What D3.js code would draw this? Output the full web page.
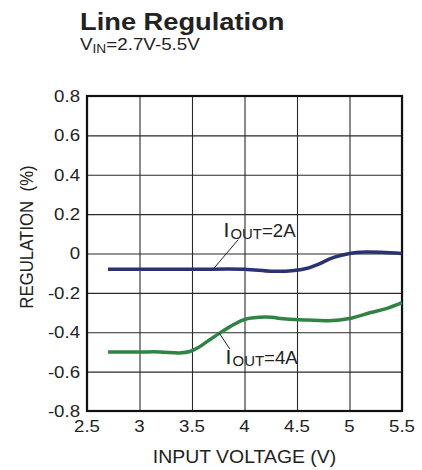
<!DOCTYPE html>
<html>
<head>
<meta charset="utf-8">
<script src="https://cdn.jsdelivr.net/npm/d3@7"></script>
<style>
    body { margin: 0; background: #fff; }
    text { font-family: "Liberation Sans", Arial, sans-serif; fill: #222; }
</style>
</head>
<body>
<div id="chart"></div>
<script>

// input voltage (V) and line regulation (%)
let vin2A = [2.7, 3.0, 3.5, 4.0, 4.25, 4.45, 4.6, 4.7, 4.85, 5.0, 5.15, 5.3, 5.5];
let reg2A = [-0.08, -0.08, -0.08, -0.08, -0.09, -0.088, -0.075, -0.055, -0.02, 0.0, 0.007, 0.006, 0.0];

let vin4A = [2.7, 3.0, 3.2, 3.38, 3.48, 3.56, 3.65, 3.77, 3.9, 4.0, 4.2, 4.4, 4.6, 4.8, 5.0, 5.2, 5.35, 5.5];
let reg4A = [-0.5, -0.5, -0.5, -0.505, -0.498, -0.478, -0.445, -0.402, -0.36, -0.335, -0.323, -0.333, -0.338, -0.341, -0.33, -0.3, -0.28, -0.25];

let xTicks = [2.5, 3, 3.5, 4, 4.5, 5, 5.5];
let yTicks = [-0.8, -0.6, -0.4, -0.2, 0, 0.2, 0.4, 0.6, 0.8];

let margin = {top: 96, right: 20, bottom: 59, left: 87};
let width = 422 - margin.left - margin.right;
let height = 470 - margin.top - margin.bottom;

let svg = d3.select("#chart").append("svg")
    .attr("width", 422)
    .attr("height", 470);

// the original lettering is a little wider than Arial, so stretch it sideways
function widen(sel, k) {
    sel.each(function() {
        let len = this.getComputedTextLength();
        d3.select(this)
            .attr("textLength", len * k)
            .attr("lengthAdjust", "spacingAndGlyphs");
    });
}

// title
svg.append("text")
    .attr("x", 80)
    .attr("y", 30)
    .attr("font-size", 23.5)
    .attr("font-weight", "bold")
    .text("Line Regulation")
    .call(widen, 1.16);

let sub = svg.append("text")
    .attr("x", 80)
    .attr("y", 50)
    .attr("font-size", 16.5);
sub.append("tspan").text("V");
sub.append("tspan").attr("font-size", 12).attr("dy", 3).text("IN");
sub.append("tspan").attr("dy", -3).text("=2.7V-5.5V");
sub.call(widen, 1.14);

let g = svg.append("g")
    .attr("transform", `translate(${margin.left}, ${margin.top})`);

let x = d3.scaleLinear().domain([2.5, 5.5]).range([0, width]);
let y = d3.scaleLinear().domain([-0.8, 0.8]).range([height, 0]);

// grid
g.append("g")
    .attr("class", "x-grid")
    .attr("transform", `translate(0, ${height})`)
    .call(d3.axisBottom(x).tickValues(xTicks).tickSize(-height).tickFormat(""))
    .call(a => a.select(".domain").remove())
    .selectAll("line").attr("stroke", "#2a2a2a").attr("stroke-width", 1.1);

g.append("g")
    .attr("class", "y-grid")
    .call(d3.axisLeft(y).tickValues(yTicks).tickSize(-width).tickFormat(""))
    .call(a => a.select(".domain").remove())
    .selectAll("line").attr("stroke", "#2a2a2a").attr("stroke-width", 1.1);

// tick labels
g.selectAll(".xlab")
    .data(xTicks)
    .enter().append("text")
    .attr("class", "xlab")
    .attr("x", d => x(d))
    .attr("y", height + 21)
    .attr("text-anchor", "middle")
    .attr("font-size", 16.5)
    .text(d => String(d))
    .call(widen, 1.13);

g.selectAll(".ylab")
    .data(yTicks)
    .enter().append("text")
    .attr("class", "ylab")
    .attr("x", -7)
    .attr("y", d => y(d))
    .attr("dy", "0.36em")
    .attr("text-anchor", "end")
    .attr("font-size", 16.5)
    .text(d => String(d))
    .call(widen, 1.13);

// frame
g.append("rect")
    .attr("width", width)
    .attr("height", height)
    .attr("fill", "none")
    .attr("stroke", "#111")
    .attr("stroke-width", 2.2);

// axis titles
svg.append("text")
    .attr("x", margin.left + width / 2)
    .attr("y", 463)
    .attr("text-anchor", "middle")
    .attr("font-size", 18.5)
    .text("INPUT VOLTAGE (V)")
    .call(widen, 1.05);

svg.append("text")
    .attr("transform", "translate(33, 237) rotate(-90) scale(1, 1.12)")
    .attr("text-anchor", "middle")
    .attr("font-size", 16.8)
    .style("white-space", "pre")
    .text("REGULATION  (%)");

// curves
let line = d3.line()
    .x(d => x(d[0]))
    .y(d => y(d[1]))
    .curve(d3.curveCatmullRom.alpha(0.5));

g.append("path")
    .datum(d3.zip(vin2A, reg2A))
    .attr("fill", "none")
    .attr("stroke", "#283370")
    .attr("stroke-width", 3.5)
    .attr("d", line);

g.append("path")
    .datum(d3.zip(vin4A, reg4A))
    .attr("fill", "none")
    .attr("stroke", "#2f8443")
    .attr("stroke-width", 3.5)
    .attr("d", line);

// labels with leaders
function addLabel(lx, ly, current, from, to) {
    g.append("line")
        .attr("x1", x(from[0])).attr("y1", y(from[1]))
        .attr("x2", x(to[0])).attr("y2", y(to[1]))
        .attr("stroke", "#222")
        .attr("stroke-width", 1);

    let t = g.append("text")
        .attr("x", x(lx))
        .attr("y", y(ly));
    t.append("tspan").attr("font-size", 20).text("I");
    t.append("tspan").attr("font-size", 14).attr("dy", 2).attr("dx", 1).text("OUT");
    t.append("tspan").attr("font-size", 17.5).attr("dy", -2).text("=" + current);
    t.call(widen, 1.08);
}

addLabel(3.8, 0.083, "2A", [3.7, -0.08], [3.94, 0.07]);
addLabel(3.82, -0.56, "4A", [3.76, -0.405], [3.86, -0.485]);

</script>
</body>
</html>
